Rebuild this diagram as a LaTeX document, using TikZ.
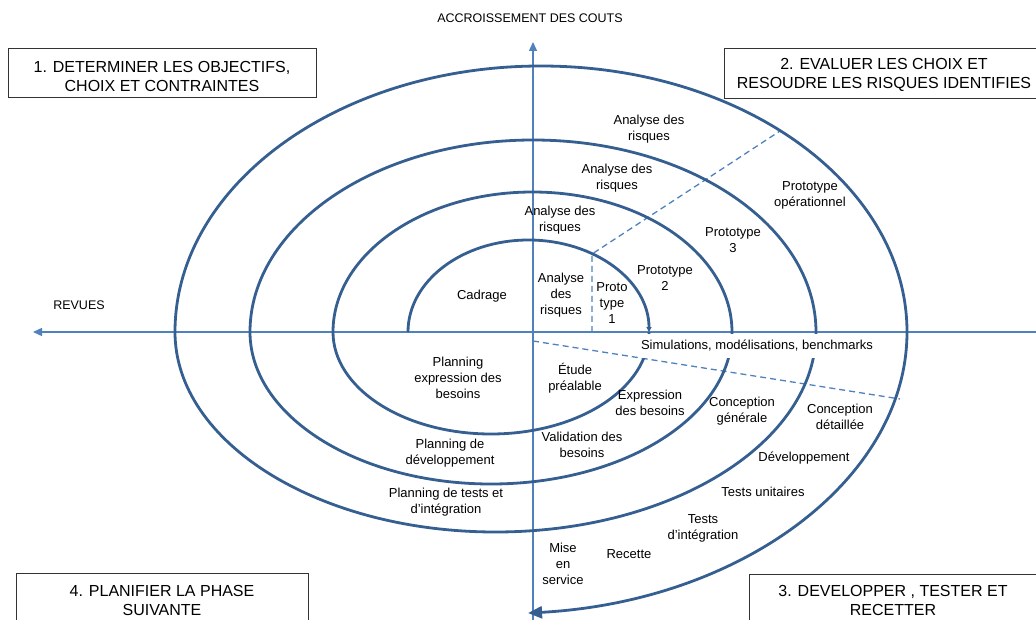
\documentclass[tikz,border=0pt]{standalone}
\usepackage{fontspec}
\setmainfont{Liberation Sans}
\usetikzlibrary{positioning, arrows.meta}
\definecolor{spiralblue}{RGB}{54,95,145}
\definecolor{axisblue}{RGB}{79,129,189}

\begin{document}
\begin{tikzpicture}[x=1pt, y=1pt]
\tikzstyle{every node}+=[inner sep=0pt, align=center, font=\fontsize{13}{16}\selectfont]
\tikzstyle{spiral}=[spiralblue, line width=2.8pt]
\tikzstyle{axis}=[axisblue, line width=1.4pt, -{Triangle[length=9pt,width=8pt]}]
\tikzstyle{guide}=[axisblue, line width=1.3pt, dash pattern=on 6pt off 4pt]
\tikzstyle{phasebox}=[draw=black!80, line width=0.8pt, fill=white]
\tikzstyle{phasetext}=[font=\fontsize{16}{19}\selectfont]
\tikzstyle{axistext}=[font=\fontsize{12.5}{15}\selectfont]
\useasboundingbox (0,0) rectangle (1036,-620);
\clip (0,0) rectangle (1036,-620);
\draw [axis] (533,-620) -- (533,-42);
\draw [axis] (1036,-332) -- (33,-332);
\draw [guide] (592,-332) -- (592,-254) -- (780,-131);
\draw [guide] (533,-341) -- (900,-399);
\draw [spiral, -{Triangle[length=5pt,width=5pt]}] (408,-332) arc [start angle=180, end angle=0, x radius=120.5, y radius=92];
\draw [spiral, -{Triangle[length=14pt,width=12pt]}] (649,-332)
  arc [start angle=0, end angle=-180, x radius=158, y radius=102]
  arc [start angle=180, end angle=0, x radius=199.5, y radius=140]
  arc [start angle=0, end angle=-180, x radius=241, y radius=152]
  arc [start angle=180, end angle=0, x radius=283, y radius=192]
  arc [start angle=0, end angle=-180, x radius=320.5, y radius=200]
  arc [start angle=180, end angle=0, x radius=366, y radius=266]
  arc [start angle=0, end angle=-85.4, x radius=412, y radius=282];
\node [axistext] (couts) at (530,-18) {ACCROISSEMENT DES COUTS};
\node [axistext] (revues) at (79,-305) {REVUES};
\node [phasebox, minimum width=308pt, minimum height=49pt] (phase1) at (162,-72.5) {};
\node [phasetext] (phase1txt) at ([yshift=-4pt]phase1.center) {1. DETERMINER LES OBJECTIFS,\\CHOIX ET CONTRAINTES};
\node [phasebox, minimum width=320pt, minimum height=50pt] (phase2) at (884,-73) {};
\node [phasetext] (phase2txt) at ([yshift=-2pt]phase2.center) {2. EVALUER LES CHOIX ET\\RESOUDRE LES RISQUES IDENTIFIES};
\node [phasebox, minimum width=292pt, minimum height=54pt] (phase3) at (895,-601) {};
\node [phasetext] (phase3txt) at (893,-600) {3. DEVELOPPER , TESTER ET\\RECETTER};
\node [phasebox, minimum width=292pt, minimum height=54pt] (phase4) at (162,-600) {};
\node [phasetext] (phase4txt) at (162,-600) {4. PLANIFIER LA PHASE\\SUIVANTE};
\node (cadrage) at (482,-296) {Cadrage};
\node (risk1) at (561,-295) {Analyse\\des\\risques};
\node (proto1) at (612,-303) {Proto\\type\\1};
\node (proto2) at (665,-278) {Prototype\\2};
\node (proto3) at (733,-240) {Prototype\\3};
\node (protoop) at (810,-195) {Prototype\\opérationnel};
\node (risk2) at (560,-220) {Analyse des\\risques};
\node (risk3) at (617,-178) {Analyse des\\risques};
\node (risk4) at (649,-129) {Analyse des\\risques};
\node [fill=white, minimum height=24pt] (simul) at (757,-346) {Simulations, modélisations, benchmarks};
\node (plan1) at (458,-378) {Planning\\expression des\\besoins};
\node (etude) at (575,-378.5) {Étude\\préalable};
\node (expr) at (650,-402.5) {Expression\\des besoins};
\node (cgen) at (742,-411.5) {Conception\\générale};
\node (cdet) at (840,-416.5) {Conception\\détaillée};
\node (valid) at (582,-444.5) {Validation des\\besoins};
\node (plan2) at (450,-453.5) {Planning de\\développement};
\node (plan3) at (446,-502) {Planning de tests et\\d’intégration};
\node (dev) at (804,-458) {Développement};
\node (tu) at (763,-492) {Tests unitaires};
\node (ti) at (703,-528.5) {Tests\\d’intégration};
\node (mise) at (563,-564) {Mise\\en\\service};
\node (recette) at (629,-554) {Recette};
\end{tikzpicture}
\end{document}
